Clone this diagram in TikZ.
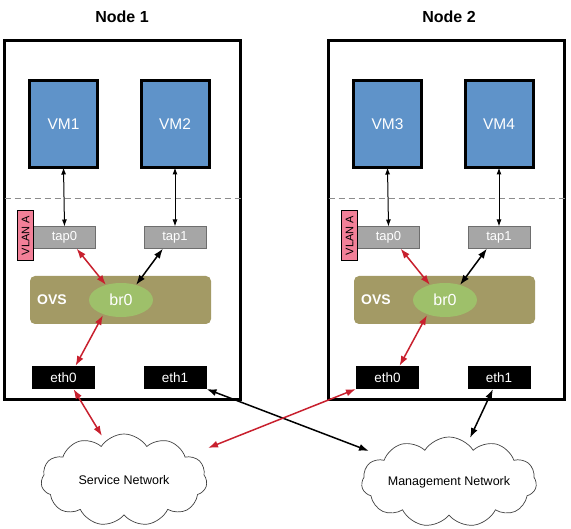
\documentclass[tikz,border=0pt]{standalone}
\usepackage{fontspec}
\setmainfont{Liberation Sans}
\usetikzlibrary{shapes.geometric,shapes.symbols,arrows.meta,calc}
\definecolor{vmblue}{RGB}{95,147,201}
\definecolor{tapgray}{RGB}{166,166,166}
\definecolor{tapline}{RGB}{110,110,110}
\definecolor{ovsolive}{RGB}{163,154,101}
\definecolor{brgreen}{RGB}{158,192,106}
\definecolor{vlanpink}{RGB}{242,128,152}
\definecolor{linkred}{RGB}{200,32,46}
\definecolor{dashgray}{RGB}{140,140,140}
\begin{document}
\begin{tikzpicture}[x=1pt,y=-1pt,
  every node/.style={inner sep=0pt,outer sep=0pt},
  titletext/.style={font=\bfseries\fontsize{16}{18}\selectfont},
  hostbox/.style={draw,line width=3pt,minimum width=236pt,minimum height=359pt},
  vmbox/.style={draw,line width=3pt,fill=vmblue,minimum width=68pt,minimum height=87pt,text=white,font=\fontsize{15.5}{18}\selectfont},
  tapbox/.style={draw=tapline,line width=0.8pt,fill=tapgray,minimum width=62pt,minimum height=22pt,text=white,font=\fontsize{13}{15}\selectfont},
  ethbox/.style={fill=black,minimum width=63pt,minimum height=23pt,text=white,font=\fontsize{13.5}{15}\selectfont},
  vlanbox/.style={draw,line width=0.8pt,fill=vlanpink,minimum width=16pt,minimum height=50pt},
  ovsbox/.style={fill=ovsolive,rounded corners=5pt,minimum width=181pt,minimum height=48pt},
  brnode/.style={ellipse,fill=brgreen,minimum width=64pt,minimum height=34pt,text=white,font=\fontsize{16}{18}\selectfont},
  netcloud/.style={cloud,draw=black!75,line width=0.7pt,cloud puffs=11,cloud puff arc=115,cloud ignores aspect,font=\fontsize{12.5}{15}\selectfont},
  sepline/.style={dashgray,line width=1pt,dash pattern=on 6pt off 4pt},
  thinlink/.style={{Latex[length=7pt,width=5pt]}-{Latex[length=7pt,width=5pt]},line width=1pt},
  redlink/.style={{Latex[length=10pt,width=7pt]}-{Latex[length=10pt,width=7pt]},line width=1.5pt,linkred},
  blklink/.style={{Latex[length=10pt,width=7pt]}-{Latex[length=10pt,width=7pt]},line width=1.5pt,black}
]
\useasboundingbox (0,0) rectangle (571,529);

\node[titletext] (title1) at (122,17) {Node 1};
\node[titletext] (title2) at (449,17) {Node 2};

\foreach \n/\dx/\va/\vb in {1/0/VM1/VM2, 2/324/VM3/VM4} {
  \node[hostbox] (host\n) at (122.5+\dx,220) {};
  \coordinate (sepL\n) at (4.5+\dx,199);
  \coordinate (sepR\n) at (240.5+\dx,199);
  \draw[sepline] (sepL\n) -- (sepR\n);
  \node[vmbox] (vma\n) at (63.5+\dx,124) {\va};
  \node[vmbox] (vmb\n) at (175+\dx,124) {\vb};
  \node[tapbox] (tapa\n) at (64.5+\dx,237.5) {tap0};
  \node[tapbox] (tapb\n) at (175+\dx,237.5) {tap1};
  \node[vlanbox] (vlan\n) at (25.5+\dx,235.5) {};
  \node[rotate=90,font=\fontsize{11}{12}\selectfont] (vlantext\n) at (vlan\n.center) {VLAN A};
  \node[ovsbox] (ovs\n) at (120.5+\dx,300) {};
  \node[text=white,font=\bfseries\fontsize{14}{16}\selectfont] (ovslabel\n) at (52+\dx,300) {OVS};
  \node[brnode] (br\n) at (121+\dx,300) {br0};
  \node[ethbox] (etha\n) at (63.5+\dx,377.5) {eth0};
  \node[ethbox] (ethb\n) at (175+\dx,377.5) {eth1};
  \draw[thinlink] (vma\n.south) -- (tapa\n.north);
  \draw[thinlink] (vmb\n.south) -- (tapb\n.north);
  \draw[redlink] ([xshift=12pt]tapa\n.south) -- (br\n.135);
  \draw[blklink] ([xshift=-12pt]tapb\n.south) -- (br\n.45);
  \draw[redlink] ($(br\n.center)+(-18,15)$) -- ([xshift=12pt]etha\n.north);
}

\node[netcloud,minimum width=166pt,minimum height=92pt] (svc) at (124,480) {Service Network};
\node[netcloud,minimum width=175pt,minimum height=90pt] (mgmt) at (449,482) {Management Network};

\draw[redlink] ([xshift=10pt]etha1.south) -- ($(svc.center)+(-22,-44)$);
\draw[blklink] (ethb1.south east) -- ($(mgmt.center)+(-80,-31)$);
\draw[redlink] (etha2.south west) -- ($(svc.center)+(84,-32)$);
\draw[blklink] ([xshift=-6pt]ethb2.south) -- ($(mgmt.center)+(21,-44)$);
\end{tikzpicture}
\end{document}
